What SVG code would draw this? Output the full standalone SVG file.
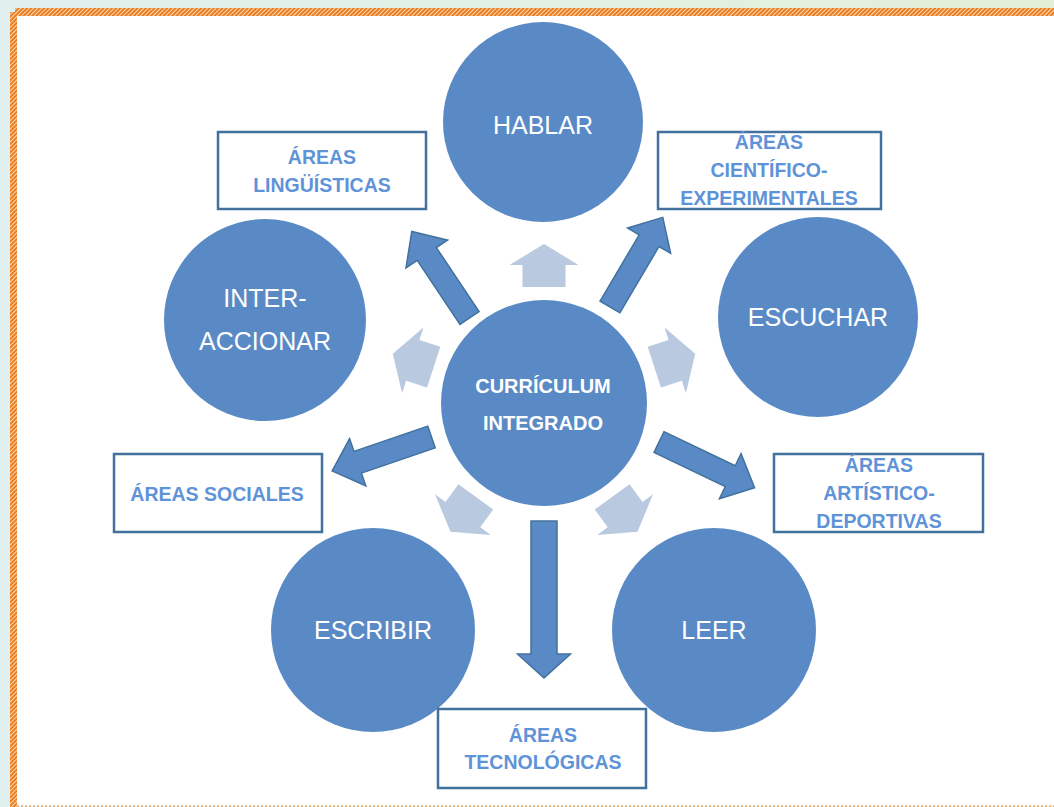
<svg xmlns="http://www.w3.org/2000/svg" width="1054" height="807" viewBox="0 0 1054 807">
  <defs>
    <linearGradient id="bgGrad" x1="0" y1="0" x2="1" y2="0">
      <stop offset="0" stop-color="#dff0ee"/>
      <stop offset="1" stop-color="#e3f0d8"/>
    </linearGradient>
    <pattern id="hatch" width="3" height="3" patternUnits="userSpaceOnUse" patternTransform="rotate(45)">
      <rect width="3" height="3" fill="#f9d9b8"/>
      <rect width="2" height="3" fill="#ec7d1e"/>
    </pattern>
    <style>
      .circle { fill: #5a8ac6; }
      .ctext { fill: #ffffff; font-family: "Liberation Sans", Arial, sans-serif; font-size: 25px; text-anchor: middle; }
      .mtext { fill: #ffffff; font-family: "Liberation Sans", Arial, sans-serif; font-size: 20px; font-weight: bold; text-anchor: middle; }
      .box { fill: #ffffff; stroke: #41719c; stroke-width: 2.5; }
      .btext { fill: #5f93d8; font-family: "Liberation Sans", Arial, sans-serif; font-size: 19.5px; font-weight: bold; text-anchor: middle; }
      .darrow { fill: #5a8ac6; stroke: #41719c; stroke-width: 1.5; stroke-linejoin: miter; }
      .larrow { fill: #b9c9e0; }
    </style>
  </defs>

  <!-- page background and border -->
  <rect x="0" y="0" width="1054" height="807" fill="url(#bgGrad)"/>
  <rect x="16" y="16" width="1038" height="790" fill="#ffffff"/>
  <rect x="15" y="8" width="1039" height="8" fill="url(#hatch)"/>
  <rect x="10" y="12" width="7" height="795" fill="url(#hatch)"/>
  <line x1="17" y1="806" x2="1054" y2="806" stroke="#f4a867" stroke-width="1.5" stroke-dasharray="2 2"/>

  <!-- connectors -->
  <g id="connectors">
    <g id="light-arrows">
      <path class="larrow" d="M116,-21.5 L138,-21.5 L138,-34.5 L159,0 L138,34.5 L138,21.5 L116,21.5 Z" transform="translate(544,403) rotate(-90)"/>
      <path class="larrow" d="M116,-21.5 L138,-21.5 L138,-34.5 L159,0 L138,34.5 L138,21.5 L116,21.5 Z" transform="translate(544,403) rotate(-18)"/>
      <path class="larrow" d="M116,-21.5 L138,-21.5 L138,-34.5 L159,0 L138,34.5 L138,21.5 L116,21.5 Z" transform="translate(544,403) rotate(54)"/>
      <path class="larrow" d="M116,-21.5 L138,-21.5 L138,-34.5 L159,0 L138,34.5 L138,21.5 L116,21.5 Z" transform="translate(544,403) rotate(126)"/>
      <path class="larrow" d="M116,-21.5 L138,-21.5 L138,-34.5 L159,0 L138,34.5 L138,21.5 L116,21.5 Z" transform="translate(544,403) rotate(198)"/>
    </g>
    <g id="dark-arrows">
      <path class="darrow" d="M0,-11.5 L77,-11.5 L77,-25 L104,0 L77,25 L77,11.5 L0,11.5 Z" transform="translate(469.5,318) rotate(-123.7)"/>
      <path class="darrow" d="M0,-11.5 L77,-11.5 L77,-25 L104,0 L77,25 L77,11.5 L0,11.5 Z" transform="translate(610,307) rotate(-59.5)"/>
      <path class="darrow" d="M0,-11.5 L78,-11.5 L78,-25 L105,0 L78,25 L78,11.5 L0,11.5 Z" transform="translate(431.5,437) rotate(161.1)"/>
      <path class="darrow" d="M0,-11.5 L79,-11.5 L79,-25 L106,0 L79,25 L79,11.5 L0,11.5 Z" transform="translate(659,442) rotate(25.6)"/>
      <path class="darrow" d="M0,-13 L133,-13 L133,-26.5 L157,0 L133,26.5 L133,13 L0,13 Z" transform="translate(544,521) rotate(90)"/>
    </g>
  </g>

  <!-- circles -->
  <g id="node-hablar">
    <circle class="circle" cx="543" cy="122" r="100"/>
    <text class="ctext" x="543" y="134">HABLAR</text>
  </g>
  <g id="node-escuchar">
    <circle class="circle" cx="818" cy="317" r="100"/>
    <text class="ctext" x="818" y="326">ESCUCHAR</text>
  </g>
  <g id="node-leer">
    <circle class="circle" cx="714" cy="630" r="102"/>
    <text class="ctext" x="714" y="639">LEER</text>
  </g>
  <g id="node-escribir">
    <circle class="circle" cx="373" cy="630" r="102"/>
    <text class="ctext" x="373" y="639">ESCRIBIR</text>
  </g>
  <g id="node-interaccionar">
    <circle class="circle" cx="265" cy="320" r="101"/>
    <text class="ctext" x="265" y="307">INTER-</text>
    <text class="ctext" x="265" y="350">ACCIONAR</text>
  </g>
  <g id="node-curriculum">
    <circle class="circle" cx="544" cy="403" r="103"/>
    <text class="mtext" x="543" y="393">CURRÍCULUM</text>
    <text class="mtext" x="543" y="430">INTEGRADO</text>
  </g>

  <!-- boxes -->
  <g id="box-linguisticas">
    <rect class="box" x="218" y="132" width="208" height="77"/>
    <text class="btext" x="322" y="164">ÁREAS</text>
    <text class="btext" x="322" y="192">LINGÜÍSTICAS</text>
  </g>
  <g id="box-cientifico">
    <rect class="box" x="658" y="132" width="223" height="77"/>
    <text class="btext" x="769" y="149">ÁREAS</text>
    <text class="btext" x="769" y="177">CIENTÍFICO-</text>
    <text class="btext" x="769" y="205">EXPERIMENTALES</text>
  </g>
  <g id="box-sociales">
    <rect class="box" x="114" y="454" width="208" height="78"/>
    <text class="btext" x="217" y="501">ÁREAS SOCIALES</text>
  </g>
  <g id="box-artistico">
    <rect class="box" x="774" y="454" width="209" height="78"/>
    <text class="btext" x="879" y="472">ÁREAS</text>
    <text class="btext" x="879" y="500">ARTÍSTICO-</text>
    <text class="btext" x="879" y="528">DEPORTIVAS</text>
  </g>
  <g id="box-tecnologicas">
    <rect class="box" x="438" y="709" width="208" height="79"/>
    <text class="btext" x="543" y="742">ÁREAS</text>
    <text class="btext" x="543" y="769">TECNOLÓGICAS</text>
  </g>
</svg>
